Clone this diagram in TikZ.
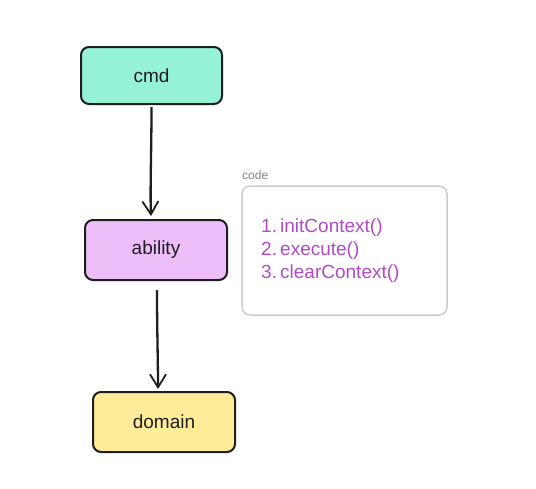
\documentclass[tikz,border=0pt]{standalone}
\usepackage{fontspec}
\setmainfont{Liberation Sans}
\usetikzlibrary{arrows.meta}
\definecolor{cmdfill}{HTML}{96F2D7}
\definecolor{abfill}{HTML}{EEBEFA}
\definecolor{domfill}{HTML}{FFEC99}
\definecolor{codetxt}{HTML}{B04AC6}
\definecolor{codeedge}{HTML}{CCCCCC}
\definecolor{lbl}{HTML}{868686}
\definecolor{ink}{HTML}{1E1E1E}
\tikzset{
  x=1pt, y=-1pt,
  stagebox/.style={draw=ink, line width=2pt, rounded corners=8pt, inner sep=0pt, font=\fontsize{19}{22}\selectfont, text=ink},
  flow/.style={draw=ink, line width=2.3pt, -{Straight Barb[length=13pt,width=16pt,line width=1.8pt]}},
}
\begin{document}
\begin{tikzpicture}
\useasboundingbox (0,0) rectangle (536,488);
\node[stagebox, fill=cmdfill, minimum width=141pt, minimum height=57pt] (cmd) at (151.5,75.5) {cmd};
\node[stagebox, fill=abfill, minimum width=142pt, minimum height=60pt] (ab) at (156,250) {ability};
\node[stagebox, fill=domfill, minimum width=142pt, minimum height=60pt] (dom) at (164,422) {domain};
\node[draw=codeedge, line width=1.5pt, rounded corners=8pt, minimum width=205pt, minimum height=129pt, inner sep=0pt] (code) at (344.5,250.5) {};
\node[anchor=south west, font=\fontsize{12}{14}\selectfont, text=lbl, inner sep=0pt] (codelbl) at (242,180) {code};
\node[anchor=west, align=left, text=codetxt, font=\fontsize{19}{23}\selectfont, inner sep=0pt] (codetext) at (261,250.5) {1.\,initContext()\\2.\,execute()\\3.\,clearContext()};
\draw[flow] ([yshift=-2pt]cmd.south) .. controls (151.5,150) and (150,190) .. ([xshift=-5pt,yshift=3pt]ab.north);
\draw[flow] ([xshift=1pt,yshift=-9pt]ab.south) .. controls (157,330) and (158,360) .. ([xshift=-6pt,yshift=2pt]dom.north);
\end{tikzpicture}
\end{document}
